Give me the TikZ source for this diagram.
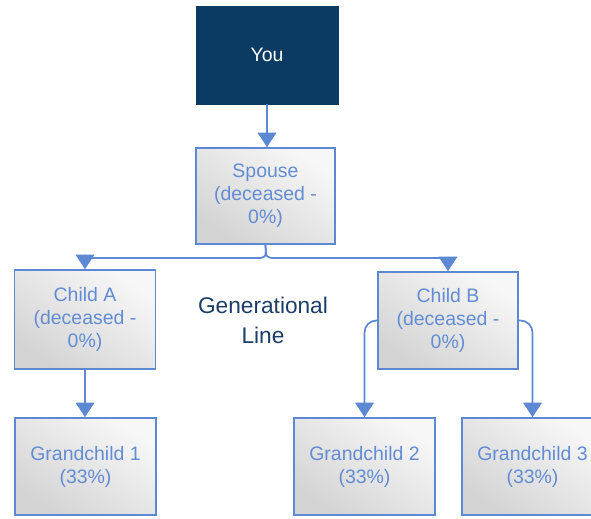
\documentclass[tikz,border=0pt]{standalone}
\usepackage{fontspec}
\setmainfont{Liberation Sans}
\usetikzlibrary{arrows.meta,calc}
\definecolor{navy}{RGB}{11,58,99}
\definecolor{lineblue}{RGB}{92,136,212}
\definecolor{txtblue}{RGB}{98,140,212}
\definecolor{gentxt}{RGB}{28,62,102}
\tikzset{
  box/.style={draw=lineblue, line width=1.2pt, inner sep=0pt, align=center,
    text=txtblue, font=\fontsize{14.6}{17.3}\selectfont,
    top color=black!3, bottom color=black!17, shading angle=-35},
  youbox/.style={draw=navy, fill=navy, inner sep=0pt, align=center, text=white,
    font=\fontsize{14.6}{17.3}\selectfont},
  conn/.style={draw=lineblue, line width=1.3pt, -{Triangle[width=14pt,length=11pt]}},
  gentext/.style={text=gentxt, align=center, font=\fontsize{17}{22.5}\selectfont}
}
\begin{document}
\begin{tikzpicture}[x=0.75pt,y=-0.75pt]
\useasboundingbox (0,0) rectangle (591,518);
\clip (0,0) rectangle (591,518);
\node[youbox, minimum width=142*0.75pt, minimum height=98*0.75pt] (you) at (267,55) {You};
\node[box, minimum width=139*0.75pt, minimum height=96*0.75pt] (sp) at (265.5,196) {Spouse\\(deceased -\\0\%)};
\node[box, minimum width=141*0.75pt, minimum height=99*0.75pt] (ca) at (85,319.5) {Child A\\(deceased -\\0\%)};
\node[box, minimum width=140*0.75pt, minimum height=97*0.75pt] (cb) at (448,320.5) {Child B\\(deceased -\\0\%)};
\node[gentext] (gl) at (263,320) {Generational\\Line};
\node[box, minimum width=141*0.75pt, minimum height=97*0.75pt] (g1) at (85.5,466.5) {Grandchild 1\\(33\%)};
\node[box, minimum width=141*0.75pt, minimum height=97*0.75pt] (g2) at (364.5,466.5) {Grandchild 2\\(33\%)};
\node[box, minimum width=141*0.75pt, minimum height=97*0.75pt] (g3) at (532.5,466.5) {Grandchild 3\\(33\%)};
\coordinate (bj) at (266,258);
\draw[conn] (you.south) -- (you.south |- sp.north);
\draw[conn] (sp.south) .. controls (bj) .. ($(bj)+(-10,0)$) -- (ca.north |- bj) -- (ca.north);
\draw[conn] (sp.south) .. controls (bj) .. ($(bj)+(10,0)$) -- (cb.north |- bj) -- (cb.north);
\draw[conn] (ca.south) -- (ca.south |- g1.north);
\draw[conn, rounded corners=9pt] (cb.west) -| (g2.north);
\draw[conn, rounded corners=9pt] (cb.east) -| (g3.north);
\end{tikzpicture}
\end{document}
